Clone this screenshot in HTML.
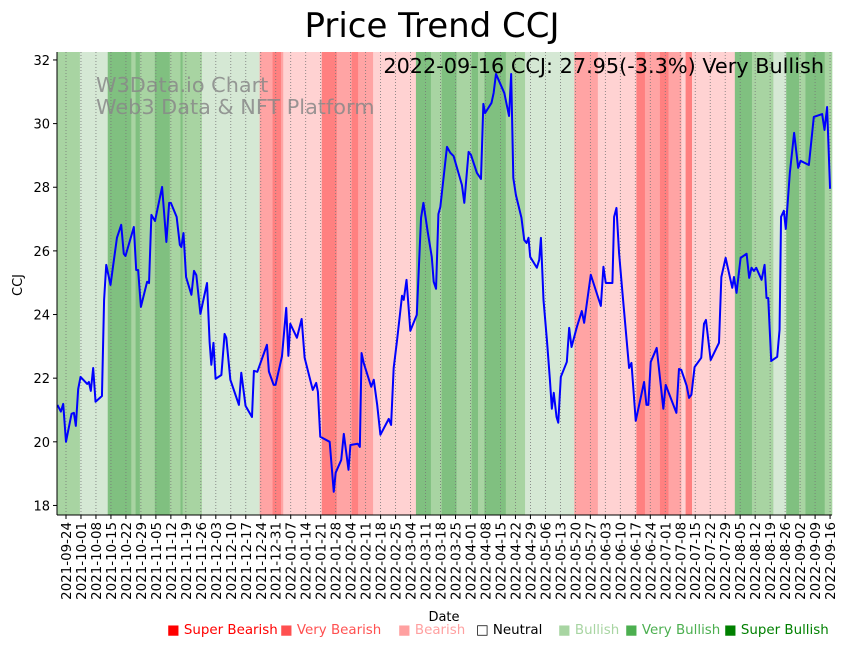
<!DOCTYPE html>
<html><head><meta charset="utf-8">
<style>
body{margin:0;background:#fff;}
svg{display:block;font-family:"DejaVu Sans","Liberation Sans",sans-serif;}
</style></head>
<body>
<svg id="chart" width="849" height="646" viewBox="0 0 849 646" xmlns="http://www.w3.org/2000/svg">
<text x="432" y="37" font-size="34" text-anchor="middle">Price Trend CCJ</text>
<g id="bands"></g>
<g id="grid"></g>
<g fill="#888" fill-opacity="0.85" font-size="20.8">
<text x="96" y="92">W3Data.io Chart</text>
<text x="96" y="114">Web3 Data &amp; NFT Platform</text>
</g>
<path id="line" fill="none" stroke="#0000ff" stroke-width="2" stroke-linejoin="round"/>
<text x="824" y="73" font-size="20.8" text-anchor="end">2022-09-16 CCJ: 27.95(-3.3%) Very Bullish</text>
<line x1="57" y1="52" x2="57" y2="515" stroke="#000" stroke-width="1"/>
<line x1="57" y1="515" x2="832" y2="515" stroke="#000" stroke-width="1"/>
<g id="yticks" font-size="13"></g>
<g id="xticks" font-size="13.4"></g>
<text x="444" y="621" font-size="13" text-anchor="middle">Date</text>
<text x="22" y="285" font-size="13" text-anchor="middle" transform="rotate(-90 22 285)">CCJ</text>
<g font-size="13.4">
<text x="167" y="634" fill="#ff0000">■ Super Bearish</text>
<text x="280" y="634" fill="#ff5050">■ Very Bearish</text>
<text x="398" y="634" fill="#ffa0a0">■ Bearish</text>
<text x="476" y="634" fill="#000">□ Neutral</text>
<text x="558" y="634" fill="#a8d5a2">■ Bullish</text>
<text x="625" y="634" fill="#4caf50">■ Very Bullish</text>
<text x="724" y="634" fill="#008000">■ Super Bullish</text>
</g>
</svg>
<script>
// days offset from 2021-09-20
const bandStarts=[0,11,24,35,37,39,46,53,58,59,68,95,101,105,106,124,131,138,141,148,168,175,180,187,194,197,200,210,219,242,253,271,275,282,286,292,294,297,317,325,335,341,347,350,359];
const bandLevels=[2,1,3,2,3,2,3,2,3,2,1,-2,-3,-2,-1,-3,-2,-3,-2,-1,3,2,3,2,3,2,3,2,1,-2,-1,-3,-2,-3,-2,-1,-3,-1,3,2,1,3,2,3,2];
const priceDays=[0,1.6,2.7,4,6.6,7.7,8.6,9.7,10.8,13.9,14.7,15.6,16.7,17.8,20.8,21.8,22.8,24.8,27.8,29.8,31,31.8,35.7,36.8,37.7,39,41.9,42.8,43.9,45.6,48.9,50.9,52.2,53,55.7,57.2,57.9,58.9,60.1,62.6,63.8,64.9,66.8,69.9,71.1,71.9,72.9,73.9,76.6,78.1,78.9,80.8,84.8,85.9,87.9,90.9,91.8,93.4,97.9,98.8,101,101.9,104.9,106.9,107.9,108.8,111.9,114.1,115.5,119.3,120.9,121.7,122.8,127.2,129.1,130,132.6,133.8,136,136.9,140.3,141.3,142.1,143.1,146.6,147.8,149.4,150.9,154.8,155.9,157.1,158.7,161,161.8,163.1,164.9,167.9,169.9,171,173,174.9,175.8,176.9,178,178.9,182,183.6,185.1,189,190.1,192.1,193.2,196,197.9,199,199.8,202.8,203.8,204.9,208.8,211,212,213,214.2,216.8,218.1,219.2,220.1,220.9,224,225.1,225.9,227.1,228.7,230.1,231,231.9,233.2,234,235.2,238,239.1,240.2,242.7,245,246.1,249.2,253.9,255.1,256.2,259.3,260.1,261.2,262.4,264,267.1,268.2,270.2,274.1,275.2,276.1,277.2,280,283.1,284.2,289.2,290.4,291.5,294,295.1,296.2,297.7,300.8,302.1,303,305.2,309.1,310.2,312.2,315.3,316.1,317.3,319.2,322,323.2,324.3,325.4,326.5,329,330.4,331.3,332.1,333.5,336.3,337.4,338.1,339.4,340.3,342.2,344.2,346.1,347.2,351.1,353.4,357.3,358.4,359.6,361];
const priceValues=[21.16,20.95,21.19,20.0,20.88,20.91,20.5,21.66,22.04,21.82,21.88,21.6,22.32,21.26,21.44,24.46,25.56,24.93,26.41,26.82,25.91,25.84,26.75,25.4,25.4,24.24,25.03,24.99,27.13,26.94,28.01,26.28,27.51,27.51,27.07,26.19,26.12,26.56,25.18,24.62,25.37,25.24,24.02,24.99,23.14,22.42,23.11,21.98,22.1,23.39,23.27,21.95,21.16,22.17,21.13,20.78,22.23,22.2,23.05,22.21,21.79,21.79,22.68,24.21,22.7,23.71,23.27,23.86,22.64,21.63,21.85,21.57,20.16,20.0,18.43,19.03,19.43,20.25,19.12,19.9,19.94,19.84,22.79,22.48,21.73,21.95,21.16,20.22,20.72,20.53,22.32,23.2,24.59,24.46,25.09,23.49,23.99,27.04,27.51,26.6,25.81,25.03,24.81,27.16,27.38,29.27,29.08,28.98,28.07,27.51,29.11,29.02,28.45,28.26,30.62,30.33,30.65,30.96,31.56,30.96,30.24,31.56,28.29,27.76,27.04,26.34,26.25,26.41,25.81,25.47,25.72,26.41,24.46,23.2,21.95,21.04,21.54,20.78,20.6,22.04,22.51,23.58,22.98,23.61,24.11,23.74,25.25,24.27,25.5,24.99,24.99,27.07,27.35,25.94,24.68,22.32,22.48,20.66,21.88,21.16,21.16,22.51,22.95,21.04,21.79,20.91,22.29,22.26,21.76,21.38,21.48,22.35,22.64,23.71,23.83,22.57,23.11,25.18,25.78,24.84,25.18,24.68,25.78,25.91,25.15,25.47,25.37,25.47,25.09,25.56,24.52,24.52,22.54,22.67,23.52,27.07,27.26,26.69,28.45,29.71,28.61,28.83,28.7,30.21,30.3,29.8,30.52,27.95];
const yTickValues=[18,20,22,24,26,28,30,32];
const xTickLabels=["2021-09-24","2021-10-01","2021-10-08","2021-10-15","2021-10-22","2021-10-29","2021-11-05","2021-11-12","2021-11-19","2021-11-26","2021-12-03","2021-12-10","2021-12-17","2021-12-24","2021-12-31","2022-01-07","2022-01-14","2022-01-21","2022-01-28","2022-02-04","2022-02-11","2022-02-18","2022-02-25","2022-03-04","2022-03-11","2022-03-18","2022-03-25","2022-04-01","2022-04-08","2022-04-15","2022-04-22","2022-04-29","2022-05-06","2022-05-13","2022-05-20","2022-05-27","2022-06-03","2022-06-10","2022-06-17","2022-06-24","2022-07-01","2022-07-08","2022-07-15","2022-07-22","2022-07-29","2022-08-05","2022-08-12","2022-08-19","2022-08-26","2022-09-02","2022-09-09","2022-09-16"];

const NS="http://www.w3.org/2000/svg";
const X0=57,X1=832,Y0=52,Y1=515,DMIN=-0.2,DMAX=361.9,VMIN=17.7,VMAX=32.25;
const T0=Date.UTC(2021,8,20);
function xs(d){return X0+(d-DMIN)/(DMAX-DMIN)*(X1-X0);}
function ys(v){return Y1-(v-VMIN)/(VMAX-VMIN)*(Y1-Y0);}
function dayOf(s){const p=s.split('-');return (Date.UTC(+p[0],p[1]-1,+p[2])-T0)/86400000;}
const levelColor={"1":"#d5e8d4","2":"#a8d4a2","3":"#80c080","-1":"#ffd2d2","-2":"#ffa4a4","-3":"#ff8080"};
const bands=document.getElementById('bands');
for(let i=0;i<bandStarts.length;i++){
  const a=Math.max(bandStarts[i]-0.5,DMIN), b=i+1<bandStarts.length?bandStarts[i+1]-0.5:DMAX;
  const r=document.createElementNS(NS,'rect');
  
  
  r.setAttribute('x',xs(a));r.setAttribute('width',xs(b)-xs(a)+0.3);
  r.setAttribute('y',Y0);r.setAttribute('height',Y1-Y0);
  r.setAttribute('fill',levelColor[String(bandLevels[i])]);
  bands.appendChild(r);
}
const grid=document.getElementById('grid'), xt=document.getElementById('xticks');
xTickLabels.forEach(l=>{
  const x=xs(dayOf(l));
  const g=document.createElementNS(NS,'line');
  
  
  g.setAttribute('x1',x);g.setAttribute('x2',x);g.setAttribute('y1',Y0);g.setAttribute('y2',Y1);
  g.setAttribute('stroke','#777');g.setAttribute('stroke-width','0.8');g.setAttribute('stroke-dasharray','1,2');
  grid.appendChild(g);
  const t=document.createElementNS(NS,'line');
  
  
  t.setAttribute('x1',x);t.setAttribute('x2',x);t.setAttribute('y1',Y1);t.setAttribute('y2',Y1+4);t.setAttribute('stroke','#000');
  xt.appendChild(t);
  const tx=document.createElementNS(NS,'text');
  
  
  tx.setAttribute('x',x+5);tx.setAttribute('y',Y1+7);tx.setAttribute('text-anchor','end');
  tx.setAttribute('transform','rotate(-90 '+(x+5)+' '+(Y1+7)+')');
  tx.textContent=l;xt.appendChild(tx);
});
const yt=document.getElementById('yticks');
yTickValues.forEach(v=>{
  const y=ys(v);
  const t=document.createElementNS(NS,'line');
  
  
  t.setAttribute('x1',X0-4);t.setAttribute('x2',X0);t.setAttribute('y1',y);t.setAttribute('y2',y);t.setAttribute('stroke','#000');
  yt.appendChild(t);
  const tx=document.createElementNS(NS,'text');
  
  
  tx.setAttribute('x',X0-7);tx.setAttribute('y',y+5);tx.setAttribute('text-anchor','end');
  tx.textContent=v;yt.appendChild(tx);
});
let d='';
for(let i=0;i<priceDays.length;i++){d+=(i?'L':'M')+xs(priceDays[i]).toFixed(2)+','+ys(priceValues[i]).toFixed(2);}
document.getElementById('line').setAttribute('d',d);
</script>
</body></html>
